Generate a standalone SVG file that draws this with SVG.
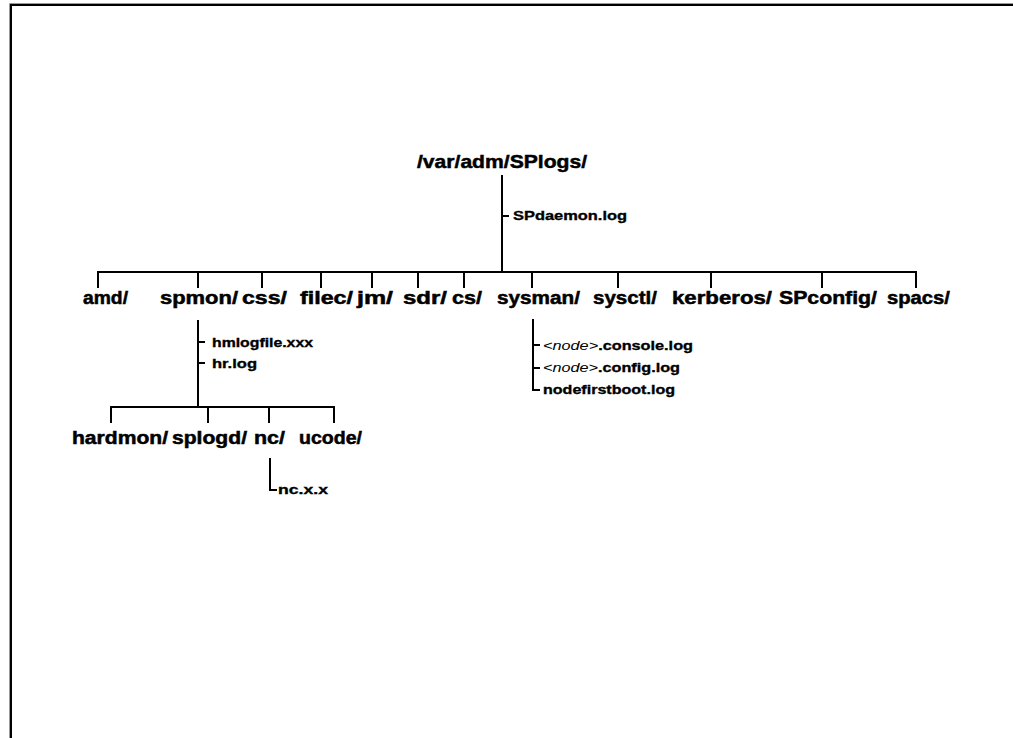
<svg xmlns="http://www.w3.org/2000/svg" width="1013" height="738" viewBox="0 0 1013 738">
  <style>
    .frame { fill: none; stroke: #000; stroke-width: 2; }
    .frame-shade { fill: none; stroke: #999; stroke-width: 1; }
    .link { fill: none; stroke: #000; stroke-width: 2; }
    .root { font-family: "Liberation Sans", Arial, sans-serif; font-weight: bold; font-size: 19px; fill: #000; stroke: #000; stroke-width: 0.5; }
    .dir { font-family: "Liberation Sans", Arial, sans-serif; font-weight: bold; font-size: 18px; fill: #000; stroke: #000; stroke-width: 0.5; }
    .file { font-family: "Liberation Sans", Arial, sans-serif; font-weight: bold; font-size: 13.5px; fill: #000; stroke: #000; stroke-width: 0.35; }
    .var { font-style: italic; font-weight: normal; stroke-width: 0; }
  </style>

  <rect x="0" y="0" width="1013" height="738" fill="#fff"/>

  <!-- page frame: top and left edges only -->
  <path class="frame-shade" d="M9.5,738 V3.5 H1013"/>
  <path class="frame" d="M11,738 V5 H1013"/>

  <!-- tree connectors -->
  <g id="connectors">
    <!-- root to first level -->
    <path class="link" d="M502,175 V272"/>
    <path class="link" d="M502,216 H509"/>
    <path class="link" d="M98,288 V272 H916 V288"/>
    <path class="link" d="M198,272 V288 M262,272 V288 M321,272 V288 M372,272 V288 M418,272 V288 M464,272 V288 M532,272 V288 M618,272 V288 M711,272 V288 M822,272 V288"/>
    <!-- spmon subtree -->
    <path class="link" d="M198,320 V407"/>
    <path class="link" d="M198,342 H205 M198,363 H205"/>
    <path class="link" d="M111,423 V407 H334 V423"/>
    <path class="link" d="M208,407 V423 M269,407 V423"/>
    <!-- nc files -->
    <path class="link" d="M270,458 V490 H277"/>
    <!-- sysman files -->
    <path class="link" d="M533,319 V390 H540"/>
    <path class="link" d="M533,345 H540 M533,368 H540"/>
  </g>

  <g id="root">
    <text class="root" x="417" y="168" textLength="170" lengthAdjust="spacingAndGlyphs">/var/adm/SPlogs/</text>
    <text class="file" x="513" y="220" textLength="114" lengthAdjust="spacingAndGlyphs">SPdaemon.log</text>
  </g>

  <g id="amd"><text class="dir" x="83" y="304" textLength="45" lengthAdjust="spacingAndGlyphs">amd/</text></g>
  <g id="spmon">
    <text class="dir" x="160" y="304" textLength="78" lengthAdjust="spacingAndGlyphs">spmon/</text>
    <text class="file" x="212" y="347" textLength="101" lengthAdjust="spacingAndGlyphs">hmlogfile.xxx</text>
    <text class="file" x="212" y="368" textLength="45" lengthAdjust="spacingAndGlyphs">hr.log</text>
  </g>
  <g id="css"><text class="dir" x="242" y="304" textLength="45" lengthAdjust="spacingAndGlyphs">css/</text></g>
  <g id="filec"><text class="dir" x="300" y="304" textLength="53" lengthAdjust="spacingAndGlyphs">filec/</text></g>
  <g id="jm"><text class="dir" x="357" y="304" textLength="36" lengthAdjust="spacingAndGlyphs">jm/</text></g>
  <g id="sdr"><text class="dir" x="403" y="304" textLength="44" lengthAdjust="spacingAndGlyphs">sdr/</text></g>
  <g id="cs"><text class="dir" x="452" y="304" textLength="30" lengthAdjust="spacingAndGlyphs">cs/</text></g>
  <g id="sysman">
    <text class="dir" x="497" y="304" textLength="83" lengthAdjust="spacingAndGlyphs">sysman/</text>
    <text class="file" x="543" y="350" textLength="150" lengthAdjust="spacingAndGlyphs"><tspan class="var">&lt;node&gt;</tspan>.console.log</text>
    <text class="file" x="543" y="372" textLength="137" lengthAdjust="spacingAndGlyphs"><tspan class="var">&lt;node&gt;</tspan>.config.log</text>
    <text class="file" x="543" y="394" textLength="132" lengthAdjust="spacingAndGlyphs">nodefirstboot.log</text>
  </g>
  <g id="sysctl"><text class="dir" x="593" y="304" textLength="64" lengthAdjust="spacingAndGlyphs">sysctl/</text></g>
  <g id="kerberos"><text class="dir" x="672" y="304" textLength="100" lengthAdjust="spacingAndGlyphs">kerberos/</text></g>
  <g id="SPconfig"><text class="dir" x="779" y="304" textLength="98" lengthAdjust="spacingAndGlyphs">SPconfig/</text></g>
  <g id="spacs"><text class="dir" x="887" y="304" textLength="63" lengthAdjust="spacingAndGlyphs">spacs/</text></g>

  <g id="hardmon"><text class="dir" x="72" y="444" textLength="96" lengthAdjust="spacingAndGlyphs">hardmon/</text></g>
  <g id="splogd"><text class="dir" x="172" y="444" textLength="75" lengthAdjust="spacingAndGlyphs">splogd/</text></g>
  <g id="nc">
    <text class="dir" x="254" y="444" textLength="31" lengthAdjust="spacingAndGlyphs">nc/</text>
    <text class="file" x="278" y="494" textLength="50" lengthAdjust="spacingAndGlyphs">nc.x.x</text>
  </g>
  <g id="ucode"><text class="dir" x="299" y="444" textLength="63" lengthAdjust="spacingAndGlyphs">ucode/</text></g>
</svg>
